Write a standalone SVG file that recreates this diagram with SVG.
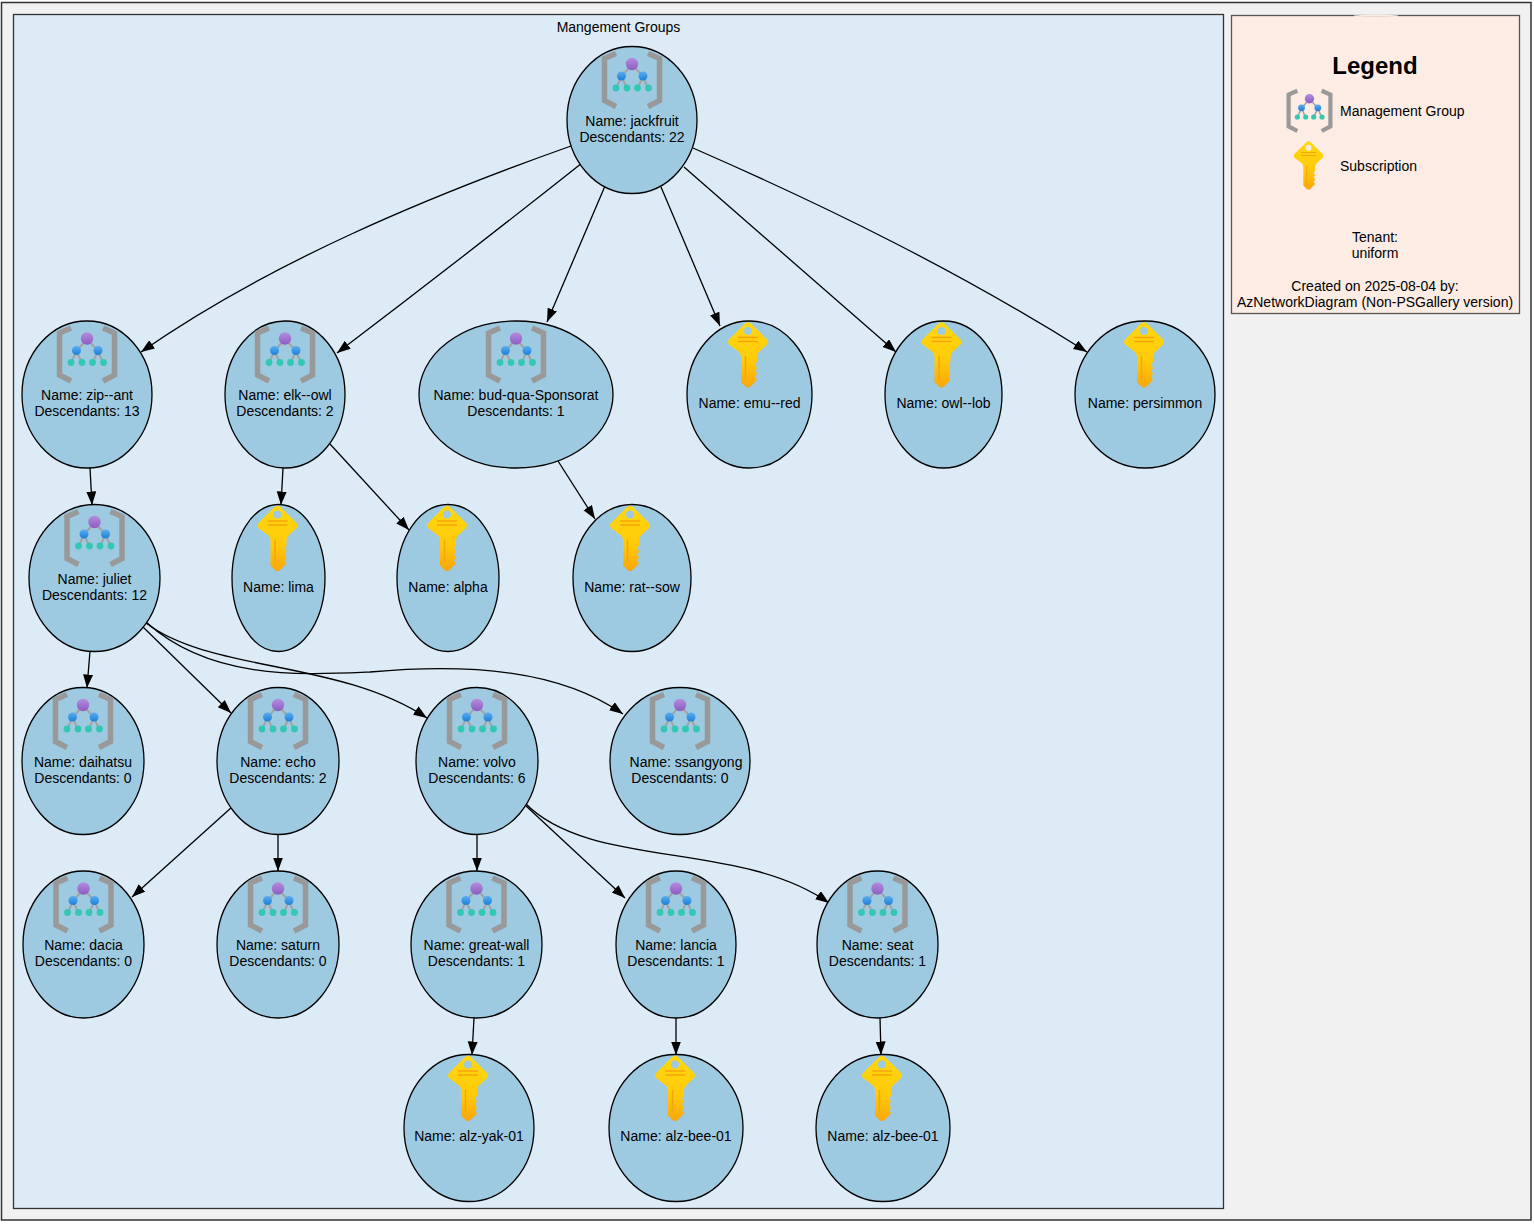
<svg xmlns="http://www.w3.org/2000/svg" xmlns:xlink="http://www.w3.org/1999/xlink" width="1534" height="1225" viewBox="0 0 1534 1225">
<style>
text{font-family:"Liberation Sans",Arial,sans-serif;font-size:14px;fill:#000;text-anchor:middle}
.n{fill:#9ecae1;stroke:#000;stroke-width:1.3}
.c{fill:none;stroke:#000;stroke-width:1.3;marker-end:url(#a)}
.l{text-anchor:start}
</style>
<defs>
<marker id="a" markerUnits="userSpaceOnUse" markerWidth="14" markerHeight="11" refX="13.5" refY="5" orient="auto"><path d="M0,0L13.5,5L0,10Z" fill="#000"/></marker>
<linearGradient id="k" x1="0" y1="0" x2="0" y2="1"><stop offset="0" stop-color="#ffd70f"/><stop offset=".6" stop-color="#ffca0a"/><stop offset="1" stop-color="#f9a60a"/></linearGradient>
<linearGradient id="p" x1="0" y1="0" x2="0" y2="1"><stop offset="0" stop-color="#b58ce0"/><stop offset="1" stop-color="#8c5cc0"/></linearGradient>
<linearGradient id="b" x1="0" y1="0" x2="0" y2="1"><stop offset="0" stop-color="#5aaef0"/><stop offset="1" stop-color="#1e7fd8"/></linearGradient>
<g id="mg">
<path d="M-16,-26L-27.500,-21V21L-16,27M16,-26L27.500,-21V21L16,27" fill="none" stroke="#999" stroke-width="5.500"/>
<path d="M0,-15L-10.500,-3L-16,9M-10.500,-3L-5,9M0,-15L11,-3L5.500,9M11,-3L16,9" fill="none" stroke="#a3a3a3" stroke-width="2"/>
<circle cx="0" cy="-15.500" r="6.200" fill="url(#p)"/>
<circle cx="-10.500" cy="-3.500" r="4.500" fill="url(#b)"/><circle cx="11" cy="-3.500" r="4.500" fill="url(#b)"/>
<circle cx="-16" cy="8.500" r="3.400" fill="#32c8b4"/><circle cx="-5" cy="8.500" r="3.400" fill="#32c8b4"/><circle cx="5.500" cy="8.500" r="3.400" fill="#32c8b4"/><circle cx="16.500" cy="8.500" r="3.400" fill="#32c8b4"/>
</g>
<g id="key">
<path fill-rule="evenodd" fill="url(#k)" d="M-3,-31.500Q0,-34 3,-31.500L19,-15.500Q21,-13 19,-10.500L11,-3Q9,-1 9,2V7L7,10L9,13L7,16L9,19L7,22L9,25L2,32Q0,33 -2,32L-7,27V2Q-7,-1 -9,-3L-19,-10.500Q-21,-13 -19,-15.500ZM4,-24A4,4 0 1 0 -4,-24A4,4 0 1 0 4,-24Z"/>
<path d="M-10,-17.500H10M-10,-13.500H10M-2.500,1V24" fill="none" stroke="#f7a50a" stroke-width="1.500"/>
</g>
</defs>
<rect id="page" x="1.500" y="2.500" width="1529.500" height="1217.500" fill="#f1f1f1" stroke="#333" stroke-width="1.500"/>
<g id="cluster"><rect x="13.500" y="14.500" width="1210" height="1194" fill="#dcebf6" stroke="#333" stroke-width="1.300"/><text x="618.500" y="32">Mangement Groups</text></g>
<g id="legend">
<rect x="1231.500" y="15.500" width="288" height="298" fill="#fdece3" stroke="#555" stroke-width="1.300"/>
<path d="M1354,16.200Q1377,14.500 1398,16.200" fill="none" stroke="#fdece3" stroke-width="1.500"/>
<text x="1375" y="74" style="font-size:24px;font-weight:bold">Legend</text>
<use href="#mg" transform="translate(1309.500,110.500) scale(.76)"/>
<text class="l" x="1340" y="116">Management Group</text>
<use href="#key" transform="translate(1308.500,165.500) scale(.74)"/>
<text class="l" x="1340" y="171">Subscription</text>
<text x="1375" y="242">Tenant:</text><text x="1375" y="258">uniform</text>
<text x="1375" y="291">Created on 2025-08-04 by:</text><text x="1375" y="307">AzNetworkDiagram (Non-PSGallery version)</text>
</g>
<g id="connectors">
<path class="c" d="M571,146C430,196 270,262 141,352"/>
<path class="c" d="M582,163C500,228 420,290 337,353"/>
<path class="c" d="M605,186L547,322"/>
<path class="c" d="M661,187L720,326"/>
<path class="c" d="M684,167L896,352"/>
<path class="c" d="M693,148C830,208 960,272 1087,352"/>
<path class="c" d="M90,468L92,505"/>
<path class="c" d="M283,468L281,505"/>
<path class="c" d="M330,444L409,530"/>
<path class="c" d="M558,461L595,519"/>
<path class="c" d="M90,651L87,688"/>
<path class="c" d="M143,627L231,713"/>
<path class="c" d="M146,623C210,672 340,660 427,718"/>
<path class="c" d="M146,622C210,680 300,675 370,672C470,663 560,670 623,714"/>
<path class="c" d="M232,807L132,897"/>
<path class="c" d="M278,834V871"/>
<path class="c" d="M477,834V871"/>
<path class="c" d="M525,805L625,898"/>
<path class="c" d="M525,803C590,870 740,840 829,903"/>
<path class="c" d="M474,1018L472,1055"/>
<path class="c" d="M676,1018V1055"/>
<path class="c" d="M880,1018L881,1055"/>
</g>
<g id="jackfruit"><ellipse class="n" cx="632" cy="120" rx="65" ry="73.500"/><use href="#mg" x="632" y="79.500"/><text x="632" y="126">Name: jackfruit</text><text x="632" y="142">Descendants: 22</text></g>
<g id="zip-ant"><ellipse class="n" cx="87" cy="394.500" rx="65" ry="73.500"/><use href="#mg" x="87" y="354"/><text x="87" y="400">Name: zip--ant</text><text x="87" y="416">Descendants: 13</text></g>
<g id="elk-owl"><ellipse class="n" cx="285" cy="394.500" rx="60" ry="73.500"/><use href="#mg" x="285" y="354"/><text x="285" y="400">Name: elk--owl</text><text x="285" y="416">Descendants: 2</text></g>
<g id="bud-qua"><ellipse class="n" cx="516" cy="394.500" rx="97" ry="73.500"/><use href="#mg" x="516" y="354"/><text x="516" y="400">Name: bud-qua-Sponsorat</text><text x="516" y="416">Descendants: 1</text></g>
<g id="emu-red"><ellipse class="n" cx="749.500" cy="394.500" rx="62.500" ry="73.500"/><use href="#key" x="748" y="355"/><text x="749.500" y="408">Name: emu--red</text></g>
<g id="owl-lob"><ellipse class="n" cx="943.500" cy="394.500" rx="58.500" ry="73.500"/><use href="#key" x="941.500" y="355"/><text x="943.500" y="408">Name: owl--lob</text></g>
<g id="persimmon"><ellipse class="n" cx="1145" cy="394.500" rx="70" ry="73.500"/><use href="#key" x="1144" y="355"/><text x="1145" y="408">Name: persimmon</text></g>
<g id="juliet"><ellipse class="n" cx="94.500" cy="578" rx="65.500" ry="73.500"/><use href="#mg" x="94.500" y="537.500"/><text x="94.500" y="584">Name: juliet</text><text x="94.500" y="600">Descendants: 12</text></g>
<g id="lima"><ellipse class="n" cx="278.500" cy="578" rx="46.500" ry="73.500"/><use href="#key" x="277.500" y="538.500"/><text x="278.500" y="592">Name: lima</text></g>
<g id="alpha"><ellipse class="n" cx="448" cy="578" rx="51" ry="73.500"/><use href="#key" x="447" y="538.500"/><text x="448" y="592">Name: alpha</text></g>
<g id="rat-sow"><ellipse class="n" cx="632" cy="578" rx="59" ry="73.500"/><use href="#key" x="630" y="538.500"/><text x="632" y="592">Name: rat--sow</text></g>
<g id="daihatsu"><ellipse class="n" cx="83" cy="761" rx="61" ry="73.500"/><use href="#mg" x="83" y="720.500"/><text x="83" y="767">Name: daihatsu</text><text x="83" y="783">Descendants: 0</text></g>
<g id="echo"><ellipse class="n" cx="278" cy="761" rx="61" ry="73.500"/><use href="#mg" x="278" y="720.500"/><text x="278" y="767">Name: echo</text><text x="278" y="783">Descendants: 2</text></g>
<g id="volvo"><ellipse class="n" cx="477" cy="761" rx="61" ry="73.500"/><use href="#mg" x="477" y="720.500"/><text x="477" y="767">Name: volvo</text><text x="477" y="783">Descendants: 6</text></g>
<g id="ssangyong"><ellipse class="n" cx="680" cy="761" rx="70" ry="73.500"/><use href="#mg" x="680" y="720.500"/><text x="686" y="767">Name: ssangyong</text><text x="680" y="783">Descendants: 0</text></g>
<g id="dacia"><ellipse class="n" cx="83.500" cy="944.500" rx="60.500" ry="73.500"/><use href="#mg" x="83.500" y="904"/><text x="83.500" y="950">Name: dacia</text><text x="83.500" y="966">Descendants: 0</text></g>
<g id="saturn"><ellipse class="n" cx="278" cy="944.500" rx="61" ry="73.500"/><use href="#mg" x="278" y="904"/><text x="278" y="950">Name: saturn</text><text x="278" y="966">Descendants: 0</text></g>
<g id="great-wall"><ellipse class="n" cx="476.500" cy="944.500" rx="65.500" ry="73.500"/><use href="#mg" x="476.500" y="904"/><text x="476.500" y="950">Name: great-wall</text><text x="476.500" y="966">Descendants: 1</text></g>
<g id="lancia"><ellipse class="n" cx="676" cy="944.500" rx="60" ry="73.500"/><use href="#mg" x="676" y="904"/><text x="676" y="950">Name: lancia</text><text x="676" y="966">Descendants: 1</text></g>
<g id="seat"><ellipse class="n" cx="877.500" cy="944.500" rx="60.500" ry="73.500"/><use href="#mg" x="877.500" y="904"/><text x="877.500" y="950">Name: seat</text><text x="877.500" y="966">Descendants: 1</text></g>
<g id="alz-yak-01"><ellipse class="n" cx="469" cy="1128" rx="65" ry="73.500"/><use href="#key" x="468" y="1088.500"/><text x="469" y="1141">Name: alz-yak-01</text></g>
<g id="alz-bee-01a"><ellipse class="n" cx="676" cy="1128" rx="67" ry="73.500"/><use href="#key" x="675" y="1088.500"/><text x="676" y="1141">Name: alz-bee-01</text></g>
<g id="alz-bee-01b"><ellipse class="n" cx="883" cy="1128" rx="67" ry="73.500"/><use href="#key" x="882" y="1088.500"/><text x="883" y="1141">Name: alz-bee-01</text></g>
</svg>
